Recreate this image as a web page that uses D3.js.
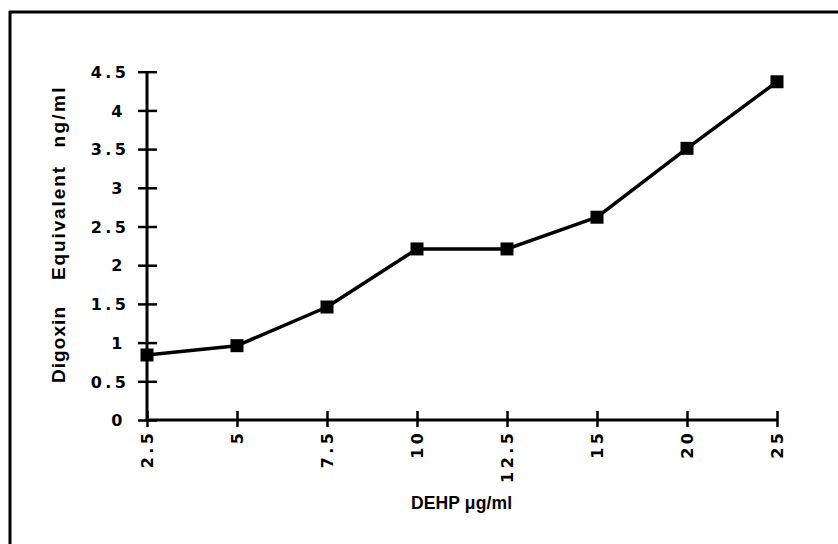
<!DOCTYPE html>
<html>
<head>
<meta charset="utf-8">
<script src="https://cdn.jsdelivr.net/npm/d3@7"></script>
<style>
  html, body { margin: 0; padding: 0; background: #fff; }
  svg { display: block; }
  text { font-family: "Liberation Sans", Arial, Helvetica, sans-serif; fill: #000; }
  .tick text { font-family: "DejaVu Sans", Verdana, sans-serif; }
</style>
</head>
<body>
<svg id="chart" width="838" height="544"></svg>
<script>
// ---- data ----
const categories = ["2.5", "5", "7.5", "10", "12.5", "15", "20", "25"];
const values = [0.84, 0.96, 1.46, 2.21, 2.21, 2.62, 3.51, 4.37];
const yTicks = [0, 0.5, 1, 1.5, 2, 2.5, 3, 3.5, 4, 4.5];
const xTitle = "DEHP \u03bcg/ml";
const yTitleWords = ["Digoxin", "Equivalent", "ng/ml"];

// ---- layout ----
const svg = d3.select("#chart");
const mLeft = 147, mRight = 777, mTop = 71.7, mBottom = 420;
const tickFont = "16px", tickLS = 3.5;

const x = d3.scalePoint().domain(categories).range([mLeft, mRight]).padding(0);
const y = d3.scaleLinear().domain([0, 4.5]).range([mBottom, mTop]);

// frame (top and left edges visible)
svg.append("line").attr("x1", 9).attr("x2", 838).attr("y1", 12).attr("y2", 12)
  .attr("stroke", "#000").attr("stroke-width", 3);
svg.append("line").attr("x1", 10).attr("x2", 10).attr("y1", 11).attr("y2", 544)
  .attr("stroke", "#000").attr("stroke-width", 3);

// y axis
const yAxis = svg.append("g").attr("transform", `translate(${mLeft},0)`)
  .call(d3.axisLeft(y).tickValues(yTicks).tickFormat(d3.format("")).tickSize(8).tickPadding(12));
yAxis.select(".domain").attr("stroke", "#000").attr("stroke-width", 3)
  .attr("d", `M0,${mBottom}V${mTop}`);
yAxis.selectAll(".tick line").attr("stroke", "#000").attr("stroke-width", 2.5)
  .attr("x1", 10).attr("x2", -9);
yAxis.selectAll(".tick text")
  .attr("x", -21).attr("dx", d => Number.isInteger(d) ? tickLS - 3.5 : tickLS).attr("dy", "0.36em")
  .style("font-size", tickFont).style("font-weight", "bold").style("letter-spacing", tickLS + "px");

// x axis
const xAxis = svg.append("g").attr("transform", `translate(0,${mBottom})`)
  .call(d3.axisBottom(x).tickSize(8));
xAxis.select(".domain").attr("stroke", "#000").attr("stroke-width", 3)
  .attr("d", `M${mLeft},0H${mRight}`);
xAxis.selectAll(".tick line").attr("stroke", "#000").attr("stroke-width", 2.5)
  .attr("y1", -9).attr("y2", 7);
xAxis.selectAll(".tick text")
  .attr("transform", "rotate(-90)")
  .attr("text-anchor", "end")
  .attr("x", -13).attr("dx", tickLS).attr("y", 0).attr("dy", "0.36em")
  .style("font-size", tickFont).style("font-weight", "bold").style("letter-spacing", tickLS + "px");

// line + markers
const line = d3.line().x((d, i) => x(categories[i])).y(d => y(d));
svg.append("path").datum(values).attr("d", line)
  .attr("fill", "none").attr("stroke", "#000").attr("stroke-width", 3.5)
  .attr("stroke-linejoin", "round");

const ms = 13;
svg.selectAll("rect.pt").data(values).join("rect").attr("class", "pt")
  .attr("x", (d, i) => x(categories[i]) - ms / 2)
  .attr("y", d => y(d) - ms / 2)
  .attr("width", ms).attr("height", ms).attr("fill", "#000");

// titles
svg.append("text").attr("x", 461.5).attr("y", 509).attr("text-anchor", "middle")
  .attr("textLength", 101).attr("lengthAdjust", "spacing")
  .style("font-size", "17.5px").style("font-weight", "bold").text(xTitle);

// y title: words placed along the rotated axis (centre, length in px)
const yWordPos = [[345, 76], [223.5, 113], [117.5, 60]];
svg.selectAll("text.ytitle").data(yTitleWords).join("text").attr("class", "ytitle")
  .attr("transform", (d, i) => `translate(65,${yWordPos[i][0]}) rotate(-90)`)
  .attr("text-anchor", "middle")
  .attr("textLength", (d, i) => yWordPos[i][1]).attr("lengthAdjust", "spacing")
  .style("font-size", "19px").style("font-weight", "bold")
  .text(d => d);
</script>
</body>
</html>
